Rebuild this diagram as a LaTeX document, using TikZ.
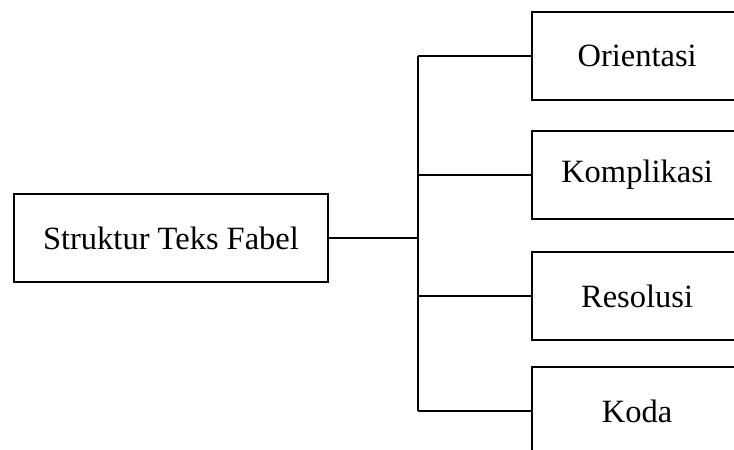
\documentclass[tikz,border=0pt]{standalone}
\usepackage{fontspec}
\setmainfont{Liberation Serif}
\begin{document}
\begin{tikzpicture}[x=1pt,y=1pt,
  box/.style={draw, line width=2.2pt, inner sep=0pt, minimum height=88pt,
    font=\fontsize{32.5}{38}\selectfont},
  part/.style={box, minimum width=210pt, anchor=west},
  link/.style={line width=2pt}]
  \useasboundingbox (0,0) rectangle (734,450);
  \clip (0,0) rectangle (734,450);
  % root of the structure
  \node[box, minimum width=314pt] (main) at (171,212) {Struktur Teks Fabel};
  % the four parts, boxes running past the right edge
  \node[part] (ori) at (531,394) {Orientasi};
  \node[part] (kom) at (531,275) {Komplikasi};
  \node[part] (res) at (531,154) {Resolusi};
  \node[part] (kod) at (531,39) {Koda};
  % branching connectors
  \coordinate (sp) at (418,0);
  \draw[link] (main.east) -- (main.east -| sp);
  \draw[link] (ori.west -| sp) -- (kod.west -| sp);
  \foreach \n in {ori,kom,res,kod}
    \draw[link] (\n.west -| sp) -- (\n.west);
\end{tikzpicture}
\end{document}
